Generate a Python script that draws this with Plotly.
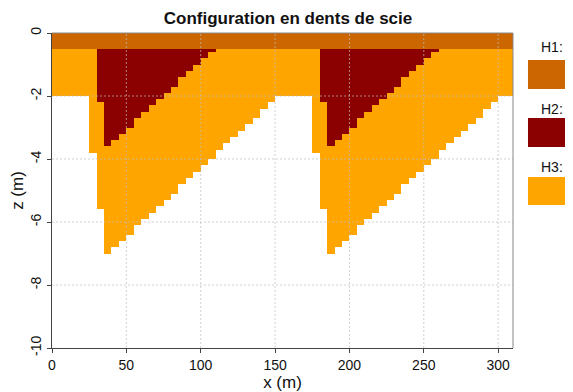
import plotly.graph_objects as go

# ---- data ----
x_left = list(range(0, 310, 5))          # left edge of each 5 m column

h1_bottom = [-0.5] * 62

h2_bottom = [None, None, None, None, None, None,
             -2.2, -3.6, -3.4, -3.2, -3.0, -2.7, -2.5, -2.3, -2.1, -1.9, -1.7, -1.4, -1.2, -1.0, -0.8, -0.6,
             None, None, None, None, None, None, None, None, None, None, None, None, None, None,
             -2.2, -3.6, -3.4, -3.2, -3.0, -2.7, -2.5, -2.3, -2.1, -1.9, -1.7, -1.4, -1.2, -1.0, -0.8, -0.6,
             None, None, None, None, None, None, None, None, None, None]

h3_bottom = [-2.0, -2.0, -2.0, -2.0, -2.0,
             -3.8, -5.6,
             -7.0, -6.8, -6.6, -6.4, -6.1, -5.9, -5.7, -5.5, -5.3, -5.1, -4.8, -4.6,
             -4.4, -4.2, -4.0, -3.7, -3.5, -3.3, -3.1, -2.9, -2.7, -2.4, -2.2,
             -2.0, -2.0, -2.0, -2.0, -2.0,
             -3.8, -5.6,
             -7.0, -6.8, -6.6, -6.4, -6.1, -5.9, -5.7, -5.5, -5.3, -5.1, -4.8, -4.6,
             -4.4, -4.2, -4.0, -3.7, -3.5, -3.3, -3.1, -2.9, -2.7, -2.4, -2.2,
             -2.0, -2.0]

layer_names = ["H1:", "H2:", "H3:"]
layer_colors = ["#CC6600", "#8B0000", "#FFA500"]

x_ticks = [0, 50, 100, 150, 200, 250, 300]
z_ticks = [0, -2, -4, -6, -8, -10]
z_tick_text = ["0", "-2", "-4", "-6", "-8", "-10"]

col_w = 5
xc = [x + col_w / 2 for x in x_left]

fig = go.Figure()

# H1
fig.add_trace(go.Bar(x=xc, y=[b - 0 for b in h1_bottom], base=[0] * len(xc), width=col_w,
                     marker=dict(color=layer_colors[0], line=dict(width=0)),
                     name="H1", hoverinfo="skip"))
# H2
x2, b2, y2 = [], [], []
for x, t, b in zip(xc, h1_bottom, h2_bottom):
    if b is not None:
        x2.append(x); b2.append(t); y2.append(b - t)
fig.add_trace(go.Bar(x=x2, y=y2, base=b2, width=col_w,
                     marker=dict(color=layer_colors[1], line=dict(width=0)),
                     name="H2", hoverinfo="skip"))
# H3
x3, b3, y3 = [], [], []
for x, t1, t2, b in zip(xc, h1_bottom, h2_bottom, h3_bottom):
    top = t2 if t2 is not None else t1
    x3.append(x); b3.append(top); y3.append(b - top)
fig.add_trace(go.Bar(x=x3, y=y3, base=b3, width=col_w,
                     marker=dict(color=layer_colors[2], line=dict(width=0)),
                     name="H3", hoverinfo="skip"))

shapes = []
grid_line = dict(color="rgba(190,190,190,0.7)", width=1, dash="2px,2px")
# dotted grid drawn over the layers
for xv in x_ticks[1:]:
    shapes.append(dict(type="line", xref="x", yref="paper", x0=xv, x1=xv, y0=0, y1=1,
                       line=grid_line, layer="above"))
for zv in z_ticks[1:-1]:
    shapes.append(dict(type="line", xref="paper", yref="y", x0=0, x1=1, y0=zv, y1=zv,
                       line=grid_line, layer="above"))
# top/right frame
shapes.append(dict(type="line", xref="paper", yref="paper", x0=0, x1=1, y0=1, y1=1,
                   line=dict(color="#888888", width=1), layer="above"))
shapes.append(dict(type="line", xref="paper", yref="paper", x0=1, x1=1, y0=0, y1=1,
                   line=dict(color="#888888", width=1), layer="above"))

# legend (title above a colour box)
label_y = [0.9565, 0.759, 0.5746]
box_y = [(0.8222, 0.9143), (0.6381, 0.7302), (0.4540, 0.5429)]
annotations = []
for name, col, ly, (y0, y1) in zip(layer_names, layer_colors, label_y, box_y):
    shapes.append(dict(type="rect", xref="paper", yref="paper", x0=1.0325, x1=1.14,
                       y0=y0, y1=y1, fillcolor=col, line=dict(width=0), layer="above"))
    annotations.append(dict(text=name, xref="paper", yref="paper", x=1.0846, y=ly,
                            xanchor="center", yanchor="middle", showarrow=False,
                            font=dict(size=14, color="#111111")))

fig.update_layout(
    width=565, height=384,
    margin=dict(l=44, r=60, t=25, b=44, autoexpand=False),
    paper_bgcolor="white", plot_bgcolor="white",
    barmode="overlay", bargap=0, showlegend=False,
    font=dict(family="Liberation Sans, Arial, sans-serif", size=14, color="#111111"),
    title=dict(text="<b>Configuration en dents de scie</b>", x=0.4956, xanchor="center",
               y=0.975, yref="container", yanchor="middle",
               font=dict(size=17, color="#111111")),
    shapes=shapes, annotations=annotations,
    xaxis=dict(range=[0, 310], tickvals=x_ticks, ticks="outside", ticklen=4,
               tickcolor="#444444", showline=True, linecolor="#444444", linewidth=1,
               showgrid=False, zeroline=False, automargin=False,
               title=dict(text="x (m)"), tickfont=dict(size=14)),
    yaxis=dict(range=[-10, 0], tickvals=z_ticks, ticktext=z_tick_text, tickangle=-90,
               ticks="outside", ticklen=4, tickcolor="#444444", showline=True,
               linecolor="#444444", linewidth=1, showgrid=False, zeroline=False,
               automargin=False, title=dict(text="z (m)"), tickfont=dict(size=14)),
)

fig.write_html("out.html")
